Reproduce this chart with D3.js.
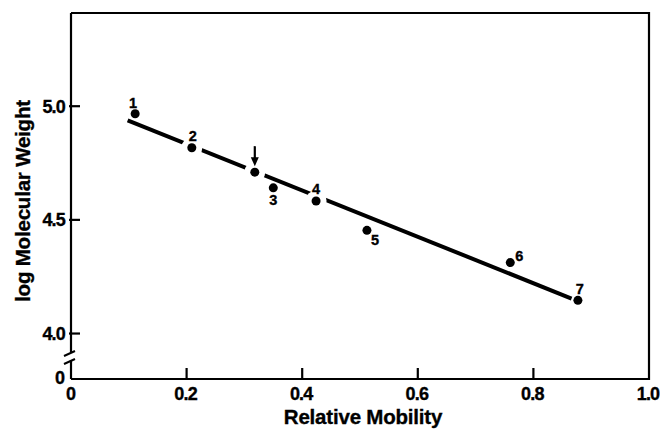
<!DOCTYPE html>
<html>
<head>
<meta charset="utf-8">
<script src="https://cdn.jsdelivr.net/npm/d3@7/dist/d3.min.js"></script>
<style>
  html, body { margin: 0; padding: 0; background: #fff; }
  svg { display: block; font-family: "Liberation Sans", Arial, Helvetica, sans-serif; font-weight: bold; }
  svg text { stroke: #000; stroke-width: 0.35px; }
</style>
</head>
<body>
<svg id="chart" width="660" height="430"></svg>
<script>
// ---- data ----
const pointLabels = ["1", "2", "", "3", "4", "5", "6", "7"];
const mobility    = [0.111, 0.209, 0.318, 0.350, 0.424, 0.512, 0.760, 0.877];
const logMW       = [4.967, 4.817, 4.710, 4.641, 4.583, 4.454, 4.312, 4.146];
const onLine      = [false, true, true, false, true, false, false, false];
const arrowed     = [false, false, true, false, false, false, false, false];
const fitMobility = [0.098, 0.866];
const fitLogMW    = [4.938, 4.154];
const xTicks      = [0.2, 0.4, 0.6, 0.8];
const xTickLabels = ["0.2", "0.4", "0.6", "0.8", "1.0"];
const yTicks      = [4.0, 4.5, 5.0];
const yTickLabels = ["4.0", "4.5", "5.0"];

// ---- label placement (style) ----
const labelOffsets = [[-2,-11],[1,-12],[0,0],[0,12],[0,-12],[8,9],[9,-7],[2,-12]];

const W = 660, H = 430;
const margin = {left: 71, right: 11, top: 13, bottom: 51};
const svg = d3.select("#chart");

const x = d3.scaleLinear().domain([0, 1]).range([margin.left, W - margin.right]);
const y = d3.scaleLinear().domain([3.8, 5.41]).range([H - margin.bottom, margin.top]);

const x0 = x(0), x1 = x(1), yB = y.range()[0], yT = y.range()[1];

// frame (top, right, bottom)
svg.append("path")
  .attr("d", `M${x0},${yT}H${x1}V${yB}H${x0}`)
  .attr("fill", "none").attr("stroke", "#000").attr("stroke-width", 2.2);

// left axis with break
const brk1 = yB - 27, brk2 = yB - 19;
svg.append("line").attr("x1", x0).attr("x2", x0).attr("y1", yT).attr("y2", brk1)
  .attr("stroke", "#000").attr("stroke-width", 2.2);
svg.append("line").attr("x1", x0).attr("x2", x0).attr("y1", brk2).attr("y2", yB)
  .attr("stroke", "#000").attr("stroke-width", 2.2);
[brk1 + 1, brk2 + 1].forEach(b => {
  svg.append("line").attr("x1", x0 - 7).attr("y1", b + 3).attr("x2", x0 + 4).attr("y2", b - 2)
    .attr("stroke", "#000").attr("stroke-width", 2);
});

// y ticks (inward)
svg.append("g").selectAll("line").data(yTicks).join("line")
  .attr("x1", x0 - 2).attr("x2", x0 + 9)
  .attr("y1", d => y(d)).attr("y2", d => y(d))
  .attr("stroke", "#000").attr("stroke-width", 2.2);
svg.append("g").selectAll("text").data(yTicks).join("text")
  .attr("x", x0 - 6).attr("y", d => y(d)).attr("dy", "0.36em")
  .attr("text-anchor", "end").attr("font-size", 18).attr("letter-spacing", -0.8)
  .text((d, i) => yTickLabels[i]);
svg.append("text").attr("x", x0 - 11).attr("y", yB).attr("dy", "0.3em")
  .attr("text-anchor", "middle").attr("font-size", 18).text("0");

// x ticks (inward)
svg.append("g").selectAll("line").data(xTicks).join("line")
  .attr("x1", d => x(d)).attr("x2", d => x(d))
  .attr("y1", yB).attr("y2", yB - 11)
  .attr("stroke", "#000").attr("stroke-width", 2.2);
svg.append("g").selectAll("text").data(xTicks.concat([1.0])).join("text")
  .attr("x", d => x(d) - 1).attr("y", yB + 21)
  .attr("text-anchor", "middle").attr("font-size", 18).attr("letter-spacing", -0.8)
  .text((d, i) => xTickLabels[i]);
svg.append("text").attr("x", x0).attr("y", yB + 21)
  .attr("text-anchor", "middle").attr("font-size", 18).text("0");

// axis titles
svg.append("text").attr("x", (x0 + x1) / 2 + 3).attr("y", H - 6)
  .attr("text-anchor", "middle").attr("font-size", 20.5).attr("letter-spacing", -0.2)
  .text("Relative Mobility");
svg.append("text").attr("transform", `translate(22,${(yT + yB) / 2 + 5}) rotate(-90)`)
  .attr("text-anchor", "middle").attr("dominant-baseline", "central")
  .attr("font-size", 20.5).attr("letter-spacing", -0.2)
  .text("log Molecular Weight");

// fitted line
const fit = fitMobility.map((m, i) => [m, fitLogMW[i]]);
svg.append("path").datum(fit)
  .attr("d", d3.line().x(d => x(d[0])).y(d => y(d[1])))
  .attr("stroke", "#000").attr("stroke-width", 4).attr("fill", "none");

const pts = mobility.map((m, i) => ({m, v: logMW[i], lab: pointLabels[i], halo: onLine[i], arrow: arrowed[i], off: labelOffsets[i]}));

// gaps in the line around on-line points
svg.append("g").selectAll("circle").data(pts.filter(d => d.halo)).join("circle")
  .attr("cx", d => x(d.m)).attr("cy", d => y(d.v)).attr("r", 10.5).attr("fill", "#fff");

// points
svg.append("g").selectAll("circle").data(pts).join("circle")
  .attr("cx", d => x(d.m)).attr("cy", d => y(d.v)).attr("r", 4.5).attr("fill", "#000");

// point labels
svg.append("g").selectAll("text").data(pts.filter(d => d.lab)).join("text")
  .attr("x", d => x(d.m) + d.off[0]).attr("y", d => y(d.v) + d.off[1])
  .attr("dy", "0.36em").attr("text-anchor", "middle").attr("font-size", 14.5)
  .text(d => d.lab);

// arrow
pts.filter(d => d.arrow).forEach(d => {
  const cx = x(d.m), cy = y(d.v);
  svg.append("line").attr("x1", cx).attr("x2", cx).attr("y1", cy - 26).attr("y2", cy - 12)
    .attr("stroke", "#000").attr("stroke-width", 2.2);
  svg.append("path").attr("d", `M${cx - 4},${cy - 15}L${cx + 4},${cy - 15}L${cx},${cy - 6}Z`)
    .attr("fill", "#000");
});
</script>
</body>
</html>
